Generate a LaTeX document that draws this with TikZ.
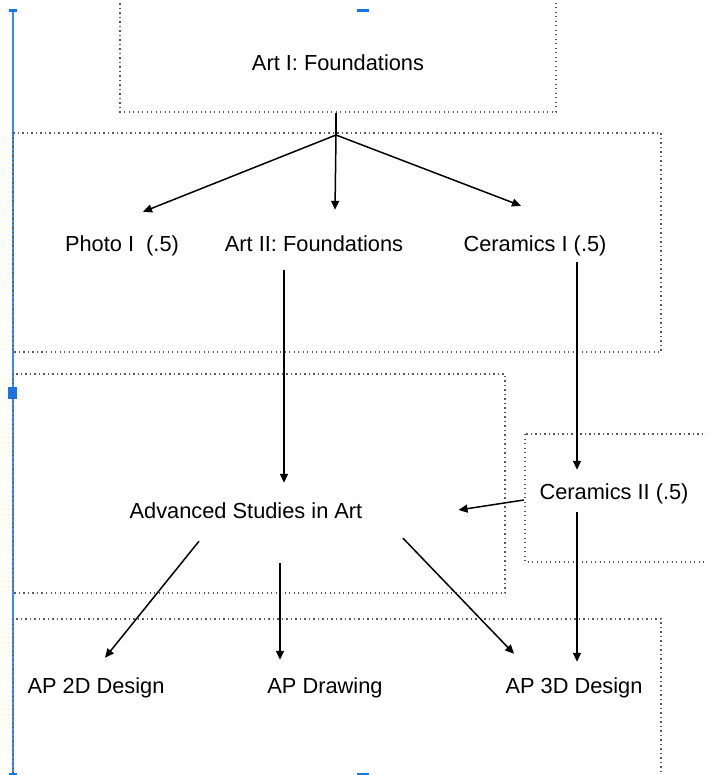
\documentclass[tikz,border=0pt]{standalone}
\usepackage{fontspec}
\setmainfont{Liberation Sans}
\usetikzlibrary{
  arrows.meta,
  calc,         % Calculations $...$
}
\definecolor{selblue}{RGB}{66,133,244}
\definecolor{handleblue}{RGB}{26,115,232}
\tikzset{
  semithick,
  >={Triangle[length=9pt,width=8pt]},
  course/.style={
    inner sep=0pt,
    text height=19pt,
    text depth=2pt,
    font=\fontsize{21.8}{26}\selectfont
  },
  frame/.style={
    draw=black!65,
    line width=1.3pt,
    dash pattern=on 1.3pt off 3.2pt
  },
  link/.style={
    ->,
    line width=1.5pt
  },
  handle/.style={
    fill=handleblue,
    draw=none
  }
}

\begin{document}
\begin{tikzpicture}[x=1pt,y=-1pt]
\useasboundingbox (0,0) rectangle (706,775);
\clip (0,0) rectangle (706,775);
% selection marks
\draw[selblue,line width=2pt] (13,12) -- (13,776);
\fill[handle] (9,9) rectangle (17,12);
\fill[handle] (357,9) rectangle (369,12);
\fill[handle] (9,773) rectangle (17,776);
\fill[handle] (357,773) rectangle (369,776);
\fill[handle] (8,387) rectangle (17,399);
% dotted frames
\draw[frame] (120,-10) rectangle (556,112);
\draw[frame] (13,133) rectangle (661,352);
\draw[frame] (13,374) rectangle (505,593);
\draw[frame] (525,434) rectangle (720,562);
\draw[frame] (13,619) rectangle (661,790);
% courses
\node[course] (art1)  at (338,62)  {Art I: Foundations};
\node[course] (photo) at (122,243) {Photo I\ \ (.5)};
\node[course] (art2)  at (314,243) {Art II: Foundations};
\node[course] (cer1)  at (535,243) {Ceramics I (.5)};
\node[course] (adv)   at (246,510) {Advanced Studies in Art};
\node[course] (cer2)  at (614,491) {Ceramics II (.5)};
\node[course] (ap2d)  at (96,685)  {AP 2D Design};
\node[course] (apdr)  at (325,685) {AP Drawing};
\node[course] (ap3d)  at (574,685) {AP 3D Design};
\coordinate (split) at (336,135);
% connectors
\draw[line width=1.5pt] ($(art1.south)+(-2,40)$) -- (split);
\draw[link] (split) -- ($(photo.north)+(21,-20.5)$);
\draw[link] (split) -- ($(art2.north)+(21,-22.5)$);
\draw[link] (split) -- ($(cer1.north)+(-14,-26.5)$);
\draw[link] ($(art2.south)+(-30,16.5)$) -- ($(adv.north)+(38,-16.5)$);
\draw[link] ($(cer1.south)+(42,8.5)$) -- ($(cer2.north)+(-37,-10.5)$);
\draw[link] ($(cer2.west)+(-15.5,9)$) -- ($(adv.east)+(96,0)$);
\draw[link] ($(adv.south)+(-47,20.5)$) -- ($(ap2d.north)+(9,-16.5)$);
\draw[link] ($(adv.south)+(34,42.5)$) -- ($(apdr.north)+(-45,-14.5)$);
\draw[link] ($(adv.south)+(157,17.5)$) -- ($(ap3d.north)+(-60,-20.5)$);
\draw[link] ($(cer2.south)+(-37,10.5)$) -- ($(ap3d.north)+(3,-12.5)$);
\end{tikzpicture}
\end{document}
